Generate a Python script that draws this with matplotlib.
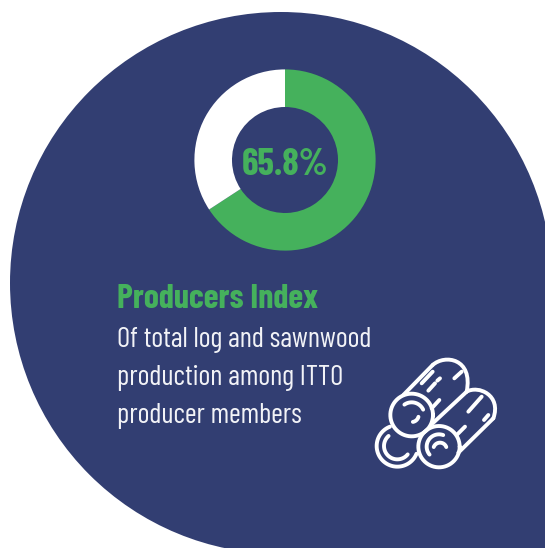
import numpy as np
import matplotlib
matplotlib.use('Agg')
import matplotlib.pyplot as plt
from matplotlib.patches import Circle, Rectangle, PathPatch
from matplotlib.path import Path

W, H = 545, 548
NAVY = '#323E72'
GREEN = '#45B15C'
FONT = ['Barlow Condensed', 'Roboto Condensed', 'Roboto', 'DejaVu Sans']

share_labels = ['Producers', 'Other']
share_values = [65.8, 34.2]
share_colors = [GREEN, 'white']
center_label = '65.8%'
title = 'Producers Index'
body_lines = ['Of total log and sawnwood', 'production among ITTO', 'producer members']

fig = plt.figure(figsize=(W / 100, H / 100), dpi=100, facecolor='white')

# background in pixel coords
bg = fig.add_axes([0, 0, 1, 1])
bg.set_xlim(0, W)
bg.set_ylim(H, 0)
bg.axis('off')
bg.add_patch(Circle((281, 283), 271, fc=NAVY, ec='none'))
bg.add_patch(Rectangle((281, 283), W - 281, H - 283, fc=NAVY, ec='none'))

# donut
cx, cy, R, r_in = 285, 160, 90.6, 53
pie = fig.add_axes([(cx - R) / W, 1 - (cy + R) / H, 2 * R / W, 2 * R / H])
pie.pie(share_values, colors=share_colors, startangle=90, counterclock=False,
        radius=1, wedgeprops=dict(width=1 - r_in / R, linewidth=0))
pie.set_xlim(-1, 1)
pie.set_ylim(-1, 1)
pie.set_aspect('auto')
pie.axis('off')

fig.text(cx / W, 1 - 175 / H, center_label, color=GREEN, fontsize=27, fontweight='bold',
         family=FONT, ha='center', va='baseline')
fig.text(117 / W, 1 - 308 / H, title, color=GREEN, fontsize=24.5, fontweight='bold',
         family=FONT, ha='left', va='baseline')
for line, y in zip(body_lines, [347, 385, 423]):
    fig.text(117 / W, 1 - y / H, line, color='#F2F3F7', fontsize=20.6,
             family=FONT, ha='left', va='baseline')


# log icon, coords are 3x zoom of the crop at (360, 340)
def px(x, y):
    return 360 + x / 3, 340 + y / 3


def stroke(xs, ys):
    xs, ys = px(np.array(xs, float), np.array(ys, float))
    bg.plot(xs, ys, color='white', lw=2.8, solid_capstyle='round', solid_joinstyle='round')


def arc(x0, y0, r, a0, a1):
    t = np.radians(np.linspace(a0, a1, 60))
    stroke(x0 + r * np.cos(t), y0 + r * np.sin(t))


def curve(*pts):
    verts = [px(*p) for p in pts]
    codes = [Path.MOVETO] + [Path.CURVE4] * (len(verts) - 1)
    bg.add_patch(PathPatch(Path(verts, codes), fc='none', ec='white', lw=2.8, capstyle='round'))


arc(155, 225, 64, 0, 360)
arc(237, 320, 62, 0, 360)
arc(112, 318, 62, 22, 249)
arc(112, 318, 40, 39, 229)
arc(155, 225, 38, 235, 335)
arc(155, 225, 21, 15, 80)
arc(237, 320, 37, 140, 290)
arc(240, 328, 20, 200, 340)

# log bodies
stroke([130, 218], [165, 75])
curve((218, 75), (255, 42), (340, 55), (320, 155))
stroke([218, 320], [250, 155])
curve((320, 155), (355, 135), (425, 165), (400, 235))
stroke([295, 400], [338, 235])

# bark marks
stroke([185, 218], [130, 95])
stroke([232, 240], [122, 115])
stroke([205, 225], [152, 130])
stroke([283, 305], [115, 95])
stroke([215, 238], [205, 180])
stroke([325, 365], [215, 170])
stroke([372, 385], [240, 225])
stroke([290, 315], [285, 260])

bg.set_xlim(0, W)
bg.set_ylim(H, 0)
fig.savefig('out.png', dpi=100)
